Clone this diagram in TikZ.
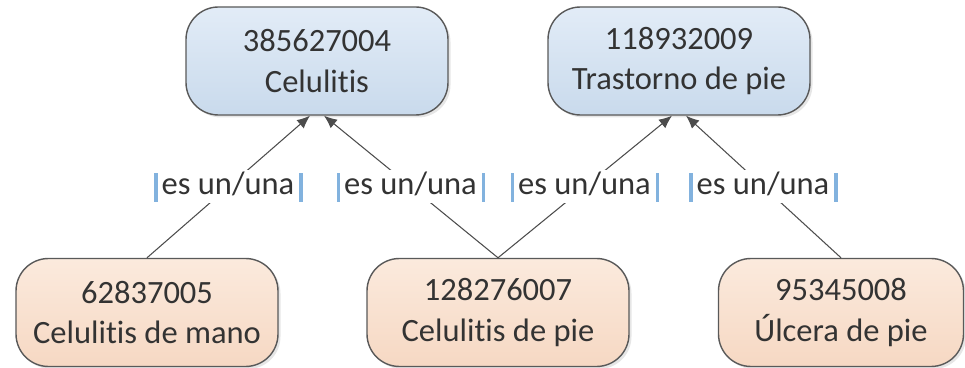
\documentclass[tikz,border=0pt]{standalone}
\usepackage{fontspec}
\setmainfont[Ligatures={NoCommon}]{Carlito}
\usepackage{tikz}
\usetikzlibrary{arrows.meta,positioning,shadows}

\definecolor{parentTop}{RGB}{226,236,247}
\definecolor{parentBot}{RGB}{201,218,236}
\definecolor{childTop}{RGB}{251,234,221}
\definecolor{childBot}{RGB}{246,216,195}
\definecolor{barBlue}{RGB}{130,178,222}

\newcommand{\isabar}{\textcolor{barBlue}{\rule[-0.14cm]{0.065cm}{0.58cm}}}

\begin{document}
\begin{tikzpicture}[
    every node/.style={font=\fontsize{18.5}{22.8}\selectfont, text=black!80},
    parent/.style={rectangle, draw=black!65, line width=0.8pt, top color=parentTop, bottom color=parentBot, minimum width=5.24cm, minimum height=2.16cm, rounded corners=0.65cm, align=center, drop shadow={opacity=0.2, shadow xshift=0.05cm, shadow yshift=-0.05cm}},
    child/.style={rectangle, draw=black!65, line width=0.8pt, top color=childTop, bottom color=childBot, minimum width=5.24cm, minimum height=2.16cm, rounded corners=0.65cm, align=center, drop shadow={opacity=0.2, shadow xshift=0.05cm, shadow yshift=-0.05cm}},
    isa/.style={-{Latex[length=0.26cm,width=0.22cm]}, draw=black!70, line width=0.6pt},
    isalabel/.style={fill=white, inner sep=1pt}
]
\useasboundingbox (0,0) rectangle (19.3,7.36);

% Parent concepts
\node[parent] (celu) at (6.34,6.14) {385627004\\Celulitis};
\node[parent] (trast) at (13.58,6.14) {118932009\\Trastorno de pie};

% Child concepts
\node[child] (mano) at (2.94,1.11) {62837005\\Celulitis de mano};
\node[child] (pie) at (9.96,1.11) {128276007\\Celulitis de pie};
\node[child, minimum width=4.9cm] (ulcera) at (16.82,1.11) {95345008\\Úlcera de pie};

% is-a relations
\draw[isa] (mano.north) -- node[isalabel] {\isabar\hspace{0.08cm}es un/una\hspace{0.1cm}\isabar} ([xshift=-0.14cm]celu.south);
\draw[isa] (pie.north) -- node[isalabel] {\isabar\hspace{0.08cm}es un/una\hspace{0.1cm}\isabar} ([xshift=0.14cm]celu.south);
\draw[isa] (pie.north) -- node[isalabel] {\isabar\hspace{0.08cm}es un/una\hspace{0.1cm}\isabar} ([xshift=-0.14cm]trast.south);
\draw[isa] (ulcera.north) -- node[isalabel] {\isabar\hspace{0.08cm}es un/una\hspace{0.1cm}\isabar} ([xshift=0.14cm]trast.south);

\end{tikzpicture}
\end{document}
